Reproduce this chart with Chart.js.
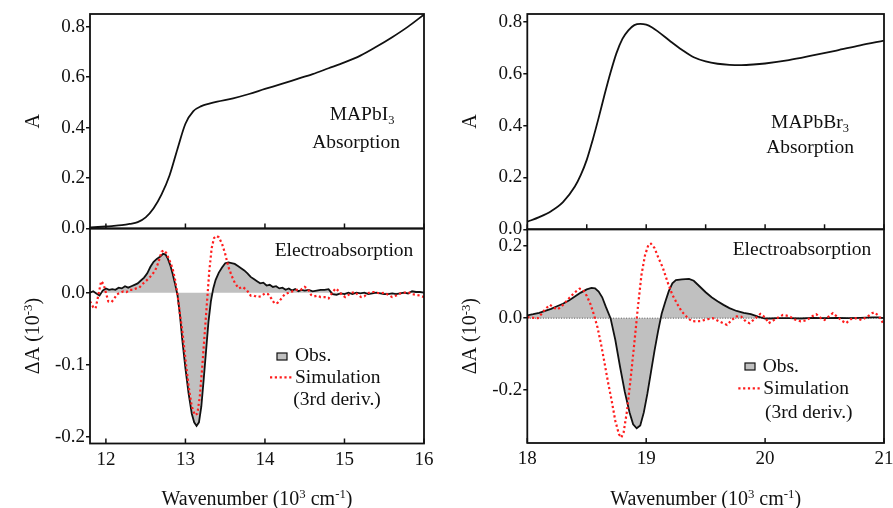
<!DOCTYPE html>
<html>
<head>
<meta charset="utf-8">
<script src="https://cdn.jsdelivr.net/npm/chart.js@4.4.1/dist/chart.umd.min.js"></script>
<style>
  body { margin: 0; background: #fff; }
  #fig { position: relative; width: 893px; height: 508px; }
  #fig canvas { position: absolute; left: 0; top: 0; }
</style>
</head>
<body>
<div id="fig">
  <canvas id="absI" width="893" height="508"></canvas>
  <canvas id="eaI" width="893" height="508"></canvas>
  <canvas id="absBr" width="893" height="508"></canvas>
  <canvas id="eaBr" width="893" height="508"></canvas>
</div>
<script>
// MAPbI3 absorption (wavenumber in 10^3 cm^-1)
const absIX = [11.8, 11.9, 12.0, 12.1, 12.2, 12.3, 12.4, 12.5, 12.6, 12.7, 12.8, 12.9, 13.0, 13.1, 13.2, 13.3, 13.4,
  13.6, 13.8, 14.0, 14.2, 14.4, 14.6, 14.8, 15.0, 15.2, 15.4, 15.6, 15.8, 16.0];
const absIY = [0.004, 0.006, 0.008, 0.010, 0.013, 0.018, 0.025, 0.044, 0.080, 0.135, 0.210, 0.315, 0.415, 0.465, 0.485,
  0.495, 0.503, 0.516, 0.533, 0.553, 0.572, 0.592, 0.612, 0.635, 0.658, 0.685, 0.720, 0.758, 0.800, 0.848];

// MAPbI3 electroabsorption, observed
const obsIX = [11.80, 11.84, 11.88, 11.92, 11.96, 12.00, 12.04, 12.08, 12.12, 12.16, 12.20, 12.24, 12.28, 12.32, 12.36,
  12.40, 12.44, 12.48, 12.52, 12.56, 12.60, 12.64, 12.68, 12.72, 12.75, 12.78, 12.81, 12.84, 12.87, 12.90, 12.93,
  12.96, 13.00, 13.04, 13.08, 13.11, 13.14, 13.17, 13.20, 13.23, 13.26, 13.29, 13.32, 13.35, 13.38, 13.42, 13.46,
  13.50, 13.54, 13.58, 13.62, 13.66, 13.70, 13.74, 13.78, 13.82, 13.86, 13.90, 13.94, 13.98, 14.02, 14.06, 14.10,
  14.14, 14.18, 14.22, 14.26, 14.30, 14.34, 14.38, 14.42, 14.46, 14.50, 14.55, 14.60, 14.65, 14.70, 14.75, 14.80,
  14.85, 14.90, 14.95, 15.00, 15.05, 15.10, 15.15, 15.20, 15.25, 15.30, 15.35, 15.40, 15.45, 15.50, 15.55, 15.60,
  15.65, 15.70, 15.75, 15.80, 15.85, 15.90, 15.95, 16.00];
const obsIY = [0.000, 0.002, -0.001, -0.004, 0.003, 0.006, 0.004, 0.005, 0.004, 0.007, 0.006, 0.009, 0.007, 0.009, 0.011,
  0.013, 0.017, 0.021, 0.027, 0.036, 0.043, 0.047, 0.050, 0.054, 0.053, 0.047, 0.038, 0.026, 0.012, -0.003, -0.030,
  -0.065, -0.105, -0.140, -0.168, -0.180, -0.185, -0.180, -0.158, -0.120, -0.080, -0.040, -0.012, 0.006, 0.018, 0.028,
  0.035, 0.041, 0.042, 0.041, 0.040, 0.037, 0.034, 0.031, 0.027, 0.022, 0.019, 0.016, 0.013, 0.014, 0.010, 0.011,
  0.008, 0.009, 0.006, 0.007, 0.004, 0.006, 0.003, 0.005, 0.002, 0.004, 0.003, 0.004, 0.002, 0.003, 0.004, 0.004,
  0.005, -0.002, -0.003, -0.001, -0.002, 0.000, -0.002, 0.000, -0.001, 0.000, -0.002, -0.001, 0.000, -0.001, -0.002,
  -0.002, -0.001, -0.002, -0.001, 0.000, -0.001, 0.002, 0.001, 0.001, 0.000];

// MAPbI3 electroabsorption, 3rd-derivative simulation
const simIX = [11.80, 11.84, 11.87, 11.90, 11.94, 11.97, 12.00, 12.03, 12.07, 12.10, 12.14, 12.18, 12.22, 12.26, 12.30,
  12.34, 12.38, 12.42, 12.46, 12.50, 12.54, 12.58, 12.62, 12.66, 12.70, 12.73, 12.76, 12.80, 12.84, 12.87, 12.90,
  12.93, 12.96, 13.00, 13.04, 13.08, 13.12, 13.15, 13.18, 13.21, 13.24, 13.27, 13.30, 13.33, 13.36, 13.39, 13.42,
  13.46, 13.50, 13.54, 13.58, 13.62, 13.67, 13.72, 13.77, 13.82, 13.86, 13.90, 13.95, 14.00, 14.04, 14.08, 14.12,
  14.16, 14.20, 14.25, 14.30, 14.35, 14.40, 14.45, 14.50, 14.54, 14.58, 14.62, 14.66, 14.70, 14.75, 14.80, 14.85,
  14.89, 14.93, 14.97, 15.01, 15.05, 15.09, 15.13, 15.17, 15.21, 15.25, 15.29, 15.33, 15.37, 15.41, 15.45, 15.50,
  15.55, 15.60, 15.65, 15.70, 15.75, 15.80, 15.85, 15.90, 15.95, 16.00];
const simIY = [-0.012, -0.020, -0.022, -0.006, 0.016, 0.012, 0.000, -0.012, -0.013, -0.009, -0.002, 0.000, 0.002, 0.001,
  0.004, 0.004, 0.006, 0.007, 0.012, 0.016, 0.020, 0.025, 0.031, 0.042, 0.057, 0.059, 0.055, 0.045, 0.033, 0.018,
  -0.002, -0.029, -0.052, -0.092, -0.130, -0.158, -0.170, -0.168, -0.145, -0.105, -0.060, -0.015, 0.030, 0.062, 0.076,
  0.079, 0.077, 0.068, 0.054, 0.036, 0.024, 0.014, 0.006, 0.008, 0.004, -0.004, -0.004, -0.006, -0.005, -0.001,
  -0.002, -0.008, -0.015, -0.014, -0.009, -0.002, 0.000, 0.002, 0.004, 0.004, 0.008, 0.005, -0.003, -0.005, -0.004,
  -0.006, -0.006, -0.008, 0.001, 0.006, 0.002, -0.003, -0.006, -0.003, 0.000, 0.001, -0.003, -0.006, -0.005, -0.001,
  0.001, 0.001, 0.000, -0.001, 0.000, -0.003, -0.006, -0.004, -0.001, 0.000, 0.001, -0.002, -0.003, -0.004, -0.006];

// MAPbBr3 absorption
const absBrX = [18.0, 18.1, 18.2, 18.3, 18.4, 18.45, 18.5, 18.55, 18.6, 18.65, 18.7, 18.75, 18.8, 18.85, 18.9, 18.95,
  19.0, 19.05, 19.1, 19.2, 19.3, 19.4, 19.5, 19.6, 19.7, 19.8, 19.9, 20.0, 20.2, 20.4, 20.6, 20.8, 21.0];
const absBrY = [0.029, 0.047, 0.070, 0.105, 0.165, 0.210, 0.268, 0.345, 0.430, 0.520, 0.605, 0.680, 0.735, 0.768,
  0.788, 0.793, 0.790, 0.779, 0.763, 0.727, 0.693, 0.664, 0.648, 0.639, 0.635, 0.634, 0.636, 0.640, 0.653, 0.671,
  0.690, 0.710, 0.728];

// MAPbBr3 electroabsorption, observed
const obsBrX = [18.00, 18.05, 18.10, 18.15, 18.20, 18.25, 18.30, 18.35, 18.40, 18.45, 18.50, 18.54, 18.57, 18.60,
  18.63, 18.66, 18.70, 18.74, 18.78, 18.82, 18.86, 18.89, 18.92, 18.95, 18.98, 19.01, 19.04, 19.07, 19.10, 19.13,
  19.16, 19.19, 19.22, 19.25, 19.30, 19.36, 19.40, 19.45, 19.50, 19.55, 19.60, 19.65, 19.70, 19.76, 19.82, 19.88,
  19.94, 20.00, 20.05, 20.10, 20.20, 20.30, 20.40, 20.50, 20.60, 20.70, 20.80, 20.90, 20.95, 21.00];
const obsBrY = [0.008, 0.011, 0.015, 0.020, 0.026, 0.033, 0.040, 0.049, 0.060, 0.071, 0.080, 0.084, 0.083, 0.074,
  0.058, 0.032, 0.000, -0.060, -0.135, -0.205, -0.262, -0.295, -0.306, -0.298, -0.262, -0.210, -0.150, -0.090,
  -0.036, 0.012, 0.045, 0.075, 0.097, 0.106, 0.108, 0.109, 0.104, 0.088, 0.072, 0.058, 0.047, 0.037, 0.028, 0.020,
  0.015, 0.011, 0.004, -0.001, -0.001, 0.000, 0.000, -0.001, 0.001, 0.000, 0.001, 0.000, 0.001, 0.002, 0.002, 0.000];

// MAPbBr3 electroabsorption, 3rd-derivative simulation
const simBrX = [18.00, 18.05, 18.09, 18.12, 18.15, 18.19, 18.22, 18.25, 18.28, 18.31, 18.35, 18.40, 18.44, 18.47,
  18.50, 18.53, 18.56, 18.59, 18.62, 18.65, 18.68, 18.71, 18.74, 18.77, 18.79, 18.81, 18.84, 18.87, 18.90, 18.93,
  18.96, 18.99, 19.02, 19.04, 19.07, 19.10, 19.14, 19.18, 19.22, 19.26, 19.30, 19.34, 19.38, 19.42, 19.46, 19.50,
  19.56, 19.62, 19.68, 19.72, 19.76, 19.80, 19.84, 19.87, 19.92, 19.96, 20.00, 20.03, 20.07, 20.11, 20.15, 20.20,
  20.25, 20.30, 20.35, 20.40, 20.43, 20.47, 20.50, 20.54, 20.57, 20.61, 20.65, 20.68, 20.72, 20.76, 20.81, 20.86,
  20.90, 20.92, 20.96, 21.00];
const simBrY = [0.003, 0.001, 0.000, 0.012, 0.025, 0.037, 0.030, 0.024, 0.030, 0.040, 0.055, 0.072, 0.082, 0.078,
  0.062, 0.040, 0.010, -0.025, -0.072, -0.125, -0.180, -0.230, -0.285, -0.322, -0.332, -0.318, -0.255, -0.165,
  -0.070, 0.030, 0.120, 0.175, 0.205, 0.207, 0.195, 0.170, 0.140, 0.100, 0.065, 0.040, 0.018, 0.004, -0.008, -0.009,
  -0.008, -0.004, 0.000, -0.010, -0.019, -0.005, 0.005, 0.004, -0.010, -0.014, 0.000, 0.012, 0.002, -0.014, -0.006,
  0.002, 0.009, 0.006, -0.004, -0.009, -0.006, 0.006, 0.011, 0.000, -0.005, 0.006, 0.014, 0.003, -0.008, -0.014,
  -0.003, 0.000, -0.005, 0.004, 0.014, 0.016, 0.005, -0.019];

// axis ranges [min, max, step]
const xRangeI = [11.8, 16, 1];
const xRangeBr = [18, 21, 1];
const yAbsI = [0, 0.85, 0.2];
const yAbsBr = [0, 0.831, 0.2];
const yEaI = [-0.2094, 0.0892, 0.1];
const yEaBr = [-0.347, 0.247, 0.2];

const FONT = '"Liberation Serif", "Times New Roman", serif';
const FILL = '#c0c0c0';
const RED = '#ff1c1c';

Chart.defaults.font.family = FONT;
Chart.defaults.font.size = 19;
Chart.defaults.color = '#111';

const pts = (xs, ys) => xs.map((x, i) => ({ x, y: ys[i] }));

// text with sub/superscript runs: parts = [[text, ''|'sup'|'sub'], ...]
function richText(ctx, parts, x, y, size, align, vertical) {
  ctx.save();
  ctx.translate(x, y);
  if (vertical) ctx.rotate(-Math.PI / 2);
  ctx.textBaseline = 'alphabetic';
  ctx.textAlign = 'left';
  ctx.fillStyle = '#111';
  const fontOf = m => (m ? size * 0.64 : size) + 'px ' + FONT;
  const widths = parts.map(p => { ctx.font = fontOf(p[1]); return ctx.measureText(p[0]).width; });
  const total = widths.reduce((s, w) => s + w, 0);
  let cx = align === 'center' ? -total / 2 : 0;
  parts.forEach((p, i) => {
    ctx.font = fontOf(p[1]);
    const dy = p[1] === 'sup' ? -size * 0.34 : p[1] === 'sub' ? size * 0.2 : 0;
    ctx.fillText(p[0], cx, dy);
    cx += widths[i];
  });
  ctx.restore();
}

// frame, inward x ticks, titles, labels and legend
const panelDeco = {
  id: 'panelDeco',
  afterDatasetsDraw(chart, args, o) {
    const { ctx, chartArea: a, scales: { x } } = chart;
    ctx.save();
    ctx.strokeStyle = '#111';
    ctx.lineWidth = 1.5;
    x.ticks.forEach(t => {
      const px = x.getPixelForValue(t.value);
      ctx.beginPath();
      ctx.moveTo(px, a.bottom);
      ctx.lineTo(px, a.bottom - 5);
      ctx.stroke();
    });
    ctx.lineWidth = 1.8;
    ctx.strokeRect(a.left, a.top, a.right - a.left, a.bottom - a.top);
    ctx.restore();

    richText(ctx, o.yTitle, a.left - 51, (a.top + a.bottom) / 2, 20, 'center', true);
    if (o.xTitle) richText(ctx, o.xTitle, (a.left + a.right) / 2, 505, 20, 'center', false);
    (o.labels || []).forEach(l => richText(ctx, l.parts, l.x, l.y, 19.5, 'center', false));

    const lg = o.legend;
    if (lg) {
      ctx.save();
      ctx.fillStyle = FILL;
      ctx.fillRect(lg.box[0], lg.box[1], 10, 7);
      ctx.strokeStyle = '#111';
      ctx.lineWidth = 1.2;
      ctx.strokeRect(lg.box[0], lg.box[1], 10, 7);
      ctx.strokeStyle = RED;
      ctx.lineWidth = 2.2;
      ctx.setLineDash([2.2, 2.6]);
      ctx.beginPath();
      ctx.moveTo(lg.line[0], lg.line[2]);
      ctx.lineTo(lg.line[1], lg.line[2]);
      ctx.stroke();
      ctx.restore();
      richText(ctx, [['Obs.', '']], lg.obs[0], lg.obs[1], 19.5, 'left');
      richText(ctx, [['Simulation', '']], lg.sim[0], lg.sim[1], 19.5, 'left');
      richText(ctx, [['(3rd deriv.)', '']], lg.der[0], lg.der[1], 19.5, 'left');
    }
  }
};

function makePanel(id, cfg) {
  const [xMin, xMax] = cfg.xRange;
  return new Chart(document.getElementById(id), {
    type: 'line',
    data: { datasets: cfg.datasets },
    options: {
      responsive: false,
      animation: false,
      devicePixelRatio: 1,
      layout: { padding: cfg.pad },
      elements: { point: { radius: 0 } },
      plugins: {
        legend: { display: false },
        tooltip: { enabled: false },
        filler: { drawTime: 'beforeDatasetsDraw' },
        panelDeco: cfg.deco
      },
      scales: {
        x: {
          type: 'linear',
          min: xMin,
          max: xMax,
          grid: { display: false, drawTicks: false },
          border: { display: false },
          ticks: {
            display: cfg.xLabels,
            stepSize: cfg.xStep,
            includeBounds: false,
            padding: 5,
            maxRotation: 0,
            color: '#111'
          },
          afterFit(s) {
            s.height = cfg.xHeight;
            s.paddingLeft = 0;
            s.paddingRight = 0;
          }
        },
        y: {
          type: 'linear',
          min: cfg.yRange[0],
          max: cfg.yRange[1],
          grid: { drawOnChartArea: false, tickLength: 4, lineWidth: 1.5, color: '#111' },
          border: { display: false },
          ticks: {
            stepSize: cfg.yRange[2],
            includeBounds: false,
            padding: 1,
            color: '#111',
            callback: v => v.toFixed(1)
          },
          afterFit(s) { s.width = cfg.yWidth; }
        }
      }
    },
    plugins: [panelDeco]
  });
}

const absLine = (xs, ys) => ({
  data: pts(xs, ys), borderColor: '#111', borderWidth: 1.8, fill: false,
  cubicInterpolationMode: 'monotone'
});
const obsLine = (xs, ys) => ({
  data: pts(xs, ys), borderColor: '#111', borderWidth: 1.8, backgroundColor: FILL,
  fill: 'origin', tension: 0, order: 2
});
const simLine = (xs, ys) => ({
  data: pts(xs, ys), borderColor: RED, borderWidth: 2.2, borderDash: [2.2, 2.6],
  fill: false, tension: 0, order: 1
});

const eaTitle = [['\u0394A (10', ''], ['-3', 'sup'], [')', '']];
const wnTitle = [['Wavenumber (10', ''], ['3', 'sup'], [' cm', ''], ['-1', 'sup'], [')', '']];

makePanel('absI', {
  datasets: [absLine(absIX, absIY)],
  pad: { left: 0, top: 14, right: 469, bottom: 279.5 },
  xRange: xRangeI, xStep: 1, xLabels: false, xHeight: 0, yWidth: 90, yRange: yAbsI,
  deco: {
    yTitle: [['A', '']],
    labels: [
      { parts: [['MAPbI', ''], ['3', 'sub']], x: 362, y: 120 },
      { parts: [['Absorption', '']], x: 356, y: 148 }
    ]
  }
});

makePanel('eaI', {
  datasets: [obsLine(obsIX, obsIY), simLine(simIX, simIY)],
  pad: { left: 0, top: 228.5, right: 469, bottom: 0 },
  xRange: xRangeI, xStep: 1, xLabels: true, xHeight: 64.5, yWidth: 90, yRange: yEaI,
  deco: {
    yTitle: eaTitle,
    xTitle: wnTitle,
    labels: [{ parts: [['Electroabsorption', '']], x: 344, y: 255.7 }],
    legend: { box: [277, 353], line: [270, 293, 377.3], obs: [295, 360.7], sim: [295, 383.3], der: [293.3, 405.3] }
  }
});

makePanel('absBr', {
  datasets: [absLine(absBrX, absBrY)],
  pad: { left: 0, top: 14, right: 9, bottom: 278.7 },
  xRange: xRangeBr, xStep: 0.5, xLabels: false, xHeight: 0, yWidth: 527.3, yRange: yAbsBr,
  deco: {
    yTitle: [['A', '']],
    labels: [
      { parts: [['MAPbBr', ''], ['3', 'sub']], x: 810, y: 128.3 },
      { parts: [['Absorption', '']], x: 810, y: 153 }
    ]
  }
});

makePanel('eaBr', {
  datasets: [
    obsLine(obsBrX, obsBrY),
    simLine(simBrX, simBrY),
    { data: pts(xRangeBr.slice(0, 2), [0, 0]), borderColor: '#555', borderWidth: 1,
      borderDash: [1, 1.6], fill: false, order: 3 }
  ],
  pad: { left: 0, top: 229.3, right: 9, bottom: 0 },
  xRange: xRangeBr, xStep: 1, xLabels: true, xHeight: 65, yWidth: 527.3, yRange: yEaBr,
  deco: {
    yTitle: eaTitle,
    xTitle: wnTitle,
    labels: [{ parts: [['Electroabsorption', '']], x: 802, y: 255 }],
    legend: { box: [745, 363], line: [738.3, 761.7, 388.3], obs: [762.7, 371.7], sim: [763.3, 394], der: [765, 418.3] }
  }
});
</script>
</body>
</html>
